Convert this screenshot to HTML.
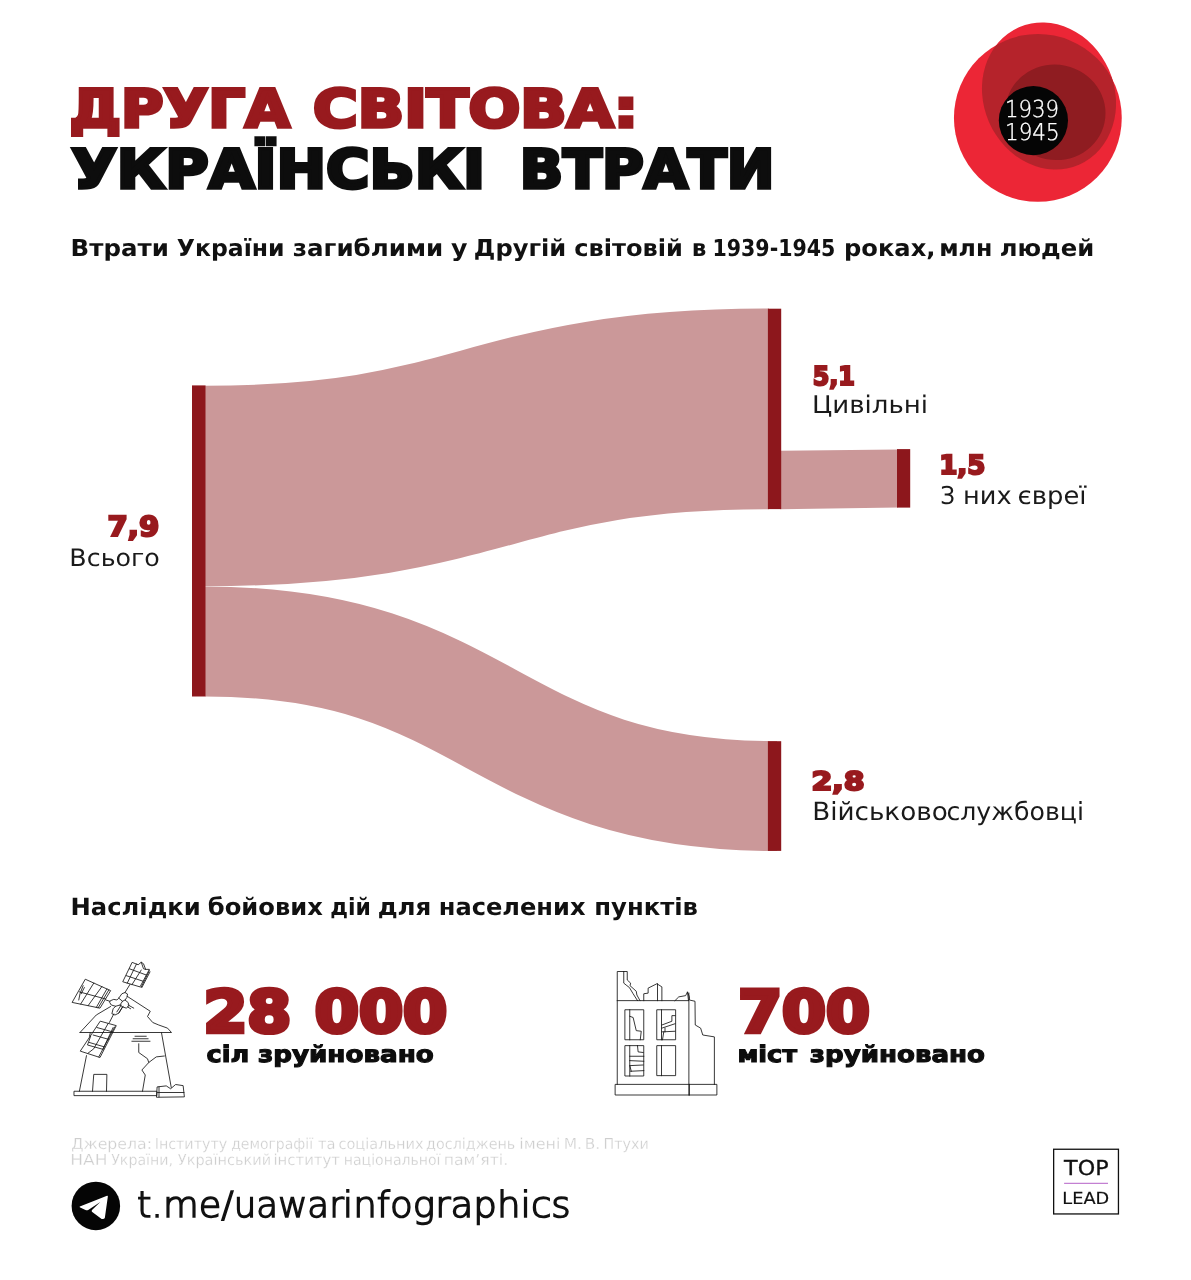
<!DOCTYPE html>
<html lang="uk"><head><meta charset="utf-8"><title>Друга світова: українські втрати</title>
<style>html,body{margin:0;padding:0;background:#fff}svg{display:block}text{white-space:pre}</style></head>
<body><svg width="1191" height="1280" viewBox="0 0 1191 1280">
<rect width="1191" height="1280" fill="#fff"/>
<!-- sankey -->
<g id="sankey">
<path d="M205,485.95 C487,485.95 487,408.9 769,408.9" fill="none" stroke="#cb9899" stroke-width="200.6"/>
<path d="M205,641.5 C491,641.5 491,796.1 777,796.1" fill="none" stroke="#cb9899" stroke-width="110"/>
<path d="M780,450.8 L898,449.5 L898,507.6 L780,509.2 Z" fill="#cb9899"/>
<rect x="192" y="385.4" width="13.5" height="311.1" fill="#8d171c"/>
<rect x="767.9" y="308.7" width="13.3" height="200.4" fill="#8d171c"/>
<rect x="767.9" y="741.2" width="13.3" height="109.7" fill="#8d171c"/>
<rect x="897" y="449.1" width="13.2" height="58.5" fill="#8d171c"/>
</g>
<!-- poppy -->
<defs>
<clipPath id="cBig"><circle cx="1037.85" cy="117.9" r="83.9"/></clipPath>
<clipPath id="cP2"><ellipse cx="1049" cy="96" rx="65.4" ry="75" transform="rotate(-23.6 1049 96)"/></clipPath>
</defs>
<g id="poppy">
<circle cx="1037.85" cy="117.9" r="83.9" fill="#ec2636"/>
<ellipse cx="1049" cy="96" rx="65.4" ry="75" transform="rotate(-23.6 1049 96)" fill="#ec2636"/>
<g clip-path="url(#cBig)"><ellipse cx="1049" cy="96" rx="65.4" ry="75" transform="rotate(-23.6 1049 96)" fill="#b5232b"/></g>
<g clip-path="url(#cBig)"><g clip-path="url(#cP2)"><ellipse cx="1055.5" cy="112.3" rx="50.1" ry="47.7" transform="rotate(12 1055.5 112.3)" fill="#8f1c21"/></g></g>
<circle cx="1033.4" cy="120.6" r="34.6" fill="#050505"/>
</g>
<!-- telegram -->
<g id="tg">
<circle cx="95.85" cy="1205.9" r="24.25" fill="#050505"/>
<g transform="translate(60,1170) scale(0.06717)">
<path d="M295,545 L700,385 Q715,380 712,400 L668,710 Q660,735 620,728 L475,620 Q465,605 480,590 L600,478 L420,595 Q400,605 380,597 L300,560 Q285,550 295,545 Z" fill="#fff"/>
</g>
</g>
<!-- toplead -->
<g id="toplead">
<rect x="1053.65" y="1149.25" width="64.8" height="64.7" fill="none" stroke="#111" stroke-width="1.3"/>
<rect x="1064.1" y="1182.8" width="43.9" height="1" fill="#b561c8"/>
</g>
<!-- windmill icon: coordinates in 8x zoom units, origin (60,950) -->
<g id="mill" transform="translate(60,950) scale(0.125)" fill="none" stroke="#151515" stroke-width="6.8" stroke-linejoin="round" stroke-linecap="round">
<path d="M115,1130 H775 V1165 H115 Z"/>
<path d="M780,1095 L850,1087 L885,1110 L925,1076 L985,1085 L995,1175 L775,1178 Z"/>
<path d="M792,1096 V1176 M780,1140 H992"/>
<path d="M155,1130 L212,845"/>
<path d="M236,690 L242,662"/>
<path d="M890,1100 L812,662"/>
<path d="M160,660 H892 L860,625 L790,600 L742,580 L700,532 L722,490 L540,372"/>
<path d="M160,660 L290,520 L405,452"/>
<path d="M260,1130 L270,995 H375 L372,1130"/>
<path d="M630,750 V820 L700,870 L710,900 L655,960 L682,1000 L660,1130 M710,900 L770,855 L835,848"/>
<path d="M600,690 H690 M585,710 H705 M575,730 H720"/>
<!-- hub -->
<path d="M405,405 L430,395 L455,400 L470,385 L495,350 L520,340 L540,352 L535,380 L520,400 L545,420 L552,445 L530,465 L500,455 L470,505 L440,520 L415,510 L425,470 L445,450 L410,440 L398,420 Z"/>
<path d="M470,385 L500,410 L520,400 M445,450 L480,440 L500,455 M480,440 L500,410 M455,495 L490,440 M470,505 L505,450"/>
<path d="M545,440 L590,465 M540,455 L565,470"/>
<!-- top blade -->
<path d="M520,340 L560,275"/>
<path d="M580,100 L625,118 L650,98 L668,110 L685,155 L715,155 L640,295 L505,255 Z"/>
<path d="M650,98 L668,150 L685,155 M715,165 L648,300 M720,175 L655,300"/>
<path d="M612,112 L538,265 M650,160 L575,278 M555,150 L690,200 M530,205 L665,250"/>
<!-- left blade -->
<path d="M398,410 L368,400"/>
<path d="M205,235 L405,325 L320,465 L100,420 Z"/>
<path d="M270,265 L165,433 M335,293 L225,445 M375,312 L290,460 M390,320 L305,463 M155,335 L365,392"/>
<path d="M185,285 L160,350 L150,400 M195,300 L170,350"/>
<!-- bottom blade -->
<path d="M430,512 L395,580"/>
<path d="M325,570 L450,605 L320,860 L165,810 Z"/>
<path d="M438,615 L310,855 M425,620 L345,790 M385,588 L270,790 L225,825 M295,620 L420,655 M265,680 L390,715 M235,740 L355,775 M245,690 L220,760 L345,795"/>
</g>
<!-- ruined building icon: 8x zoom units, origin (600,950) -->
<g id="bld" transform="translate(600,950) scale(0.125)" fill="none" stroke="#151515" stroke-width="6.8" stroke-linejoin="miter" stroke-linecap="square">
<path d="M125,1075 H935 V1160 H125 Z M715,1075 V1160"/>
<path d="M138,1075 V172 H218 V240 L245,265 L240,285 L290,330 L295,360 L320,405"/>
<path d="M190,172 V265 L215,285 L235,300 L265,350 L300,405"/>
<path d="M138,405 H705"/>
<path d="M350,405 V350 L385,345 V305 L455,270 L495,295 V405 M460,270 V405"/>
<path d="M600,405 L630,375 L685,365 L700,335 L715,375 V400 L760,410 L762,600 L805,625 L822,680 L915,695 V1075"/>
<path d="M711,345 V1160 M700,338 L708,405"/>
<!-- windows -->
<path d="M203,478 H350 V718 H203 Z M238,478 V718 M238,530 L265,540 L290,645 L330,650 L322,718"/>
<path d="M458,478 H605 V718 H458 Z M492,478 V718 M600,525 H575 V570 L495,600 M495,625 L600,590 M495,655 L600,650 M510,655 L500,718 M520,625 V655"/>
<path d="M203,765 H350 V1008 H203 Z M238,765 V1008 M300,765 L305,815 L345,820 M238,850 H350 M238,885 L350,890 M238,925 L345,920 M245,970 L350,965 M240,930 L250,970"/>
<path d="M458,765 H605 V1005 H458 Z M492,765 V1005"/>
</g>

<g text-rendering="geometricPrecision">
<text transform="translate(69.51,126.80) scale(1.1040,1)" font-family="DejaVu Sans, Liberation Sans, sans-serif" font-weight="700" font-size="52.47" fill="#981a1e" stroke="#981a1e" stroke-width="3.60" stroke-linejoin="miter">ДРУГА</text>
<text transform="translate(313.04,126.80) scale(1.1610,1)" font-family="DejaVu Sans, Liberation Sans, sans-serif" font-weight="700" font-size="52.47" fill="#981a1e" stroke="#981a1e" stroke-width="3.60" stroke-linejoin="miter">СВІТОВА:</text>
<text transform="translate(71.20,187.60) scale(1.1001,1)" font-family="DejaVu Sans, Liberation Sans, sans-serif" font-weight="700" font-size="53.84" fill="#0d0d0d" stroke="#0d0d0d" stroke-width="3.60" stroke-linejoin="miter">УКРАЇНСЬКІ</text>
<text transform="translate(519.63,187.60) scale(1.0585,1)" font-family="DejaVu Sans, Liberation Sans, sans-serif" font-weight="700" font-size="53.84" fill="#0d0d0d" stroke="#0d0d0d" stroke-width="3.60" stroke-linejoin="miter">ВТРАТИ</text>
<text transform="translate(70.53,256.00) scale(1.0518,1)" font-family="DejaVu Sans, Liberation Sans, sans-serif" font-weight="700" font-size="23.29" fill="#111">Втрати</text>
<text transform="translate(176.79,256.00) scale(1.0123,1)" font-family="DejaVu Sans, Liberation Sans, sans-serif" font-weight="700" font-size="23.29" fill="#111">України</text>
<text transform="translate(292.77,256.00) scale(1.0544,1)" font-family="DejaVu Sans, Liberation Sans, sans-serif" font-weight="700" font-size="23.29" fill="#111">загиблими</text>
<text transform="translate(450.88,256.00) scale(1.0874,1)" font-family="DejaVu Sans, Liberation Sans, sans-serif" font-weight="700" font-size="23.29" fill="#111">у</text>
<text transform="translate(473.85,256.00) scale(1.0385,1)" font-family="DejaVu Sans, Liberation Sans, sans-serif" font-weight="700" font-size="23.29" fill="#111">Другій</text>
<text transform="translate(574.28,256.00) scale(1.0351,1)" font-family="DejaVu Sans, Liberation Sans, sans-serif" font-weight="700" font-size="23.29" fill="#111">світовій</text>
<text transform="translate(691.63,256.00) scale(0.9949,1)" font-family="DejaVu Sans, Liberation Sans, sans-serif" font-weight="700" font-size="23.29" fill="#111">в</text>
<text transform="translate(712.38,256.00) scale(0.8836,1)" font-family="DejaVu Sans, Liberation Sans, sans-serif" font-weight="700" font-size="23.29" fill="#111">1939-1945</text>
<text transform="translate(843.94,256.00) scale(1.0392,1)" font-family="DejaVu Sans, Liberation Sans, sans-serif" font-weight="700" font-size="23.29" fill="#111">роках,</text>
<text transform="translate(939.18,256.00) scale(1.0194,1)" font-family="DejaVu Sans, Liberation Sans, sans-serif" font-weight="700" font-size="23.29" fill="#111">млн</text>
<text transform="translate(999.66,256.00) scale(1.0436,1)" font-family="DejaVu Sans, Liberation Sans, sans-serif" font-weight="700" font-size="23.29" fill="#111">людей</text>
<text transform="translate(70.56,914.90) scale(1.0177,1)" font-family="DejaVu Sans, Liberation Sans, sans-serif" font-weight="700" font-size="23.84" fill="#111">Наслідки</text>
<text transform="translate(207.77,914.90) scale(1.0169,1)" font-family="DejaVu Sans, Liberation Sans, sans-serif" font-weight="700" font-size="23.84" fill="#111">бойових</text>
<text transform="translate(330.19,914.90) scale(0.9212,1)" font-family="DejaVu Sans, Liberation Sans, sans-serif" font-weight="700" font-size="23.84" fill="#111">дій</text>
<text transform="translate(377.64,914.90) scale(1.0340,1)" font-family="DejaVu Sans, Liberation Sans, sans-serif" font-weight="700" font-size="23.84" fill="#111">для</text>
<text transform="translate(438.75,914.90) scale(1.0122,1)" font-family="DejaVu Sans, Liberation Sans, sans-serif" font-weight="700" font-size="23.84" fill="#111">населених</text>
<text transform="translate(594.23,914.90) scale(1.0205,1)" font-family="DejaVu Sans, Liberation Sans, sans-serif" font-weight="700" font-size="23.84" fill="#111">пунктів</text>
<text transform="translate(107.60,535.90) scale(1.0601,1)" font-family="DejaVu Sans, Liberation Sans, sans-serif" font-weight="700" font-size="27.47" fill="#981a1e" stroke="#981a1e" stroke-width="2.20" stroke-linejoin="miter">7,9</text>
<text transform="translate(69.33,566.30) scale(1.0567,1)" font-family="DejaVu Sans, Liberation Sans, sans-serif" font-weight="400" font-size="23.97" fill="#1a1a1a">Всього</text>
<text transform="translate(812.66,385.40) scale(0.9181,1)" font-family="DejaVu Sans, Liberation Sans, sans-serif" font-weight="700" font-size="25.99" fill="#981a1e" stroke="#981a1e" stroke-width="2.20" stroke-linejoin="miter">5,1</text>
<text transform="translate(812.06,412.80) scale(1.0680,1)" font-family="DejaVu Sans, Liberation Sans, sans-serif" font-weight="400" font-size="24.38" fill="#1a1a1a">Цивільні</text>
<text transform="translate(939.15,474.20) scale(0.9908,1)" font-family="DejaVu Sans, Liberation Sans, sans-serif" font-weight="700" font-size="26.40" fill="#981a1e" stroke="#981a1e" stroke-width="2.20" stroke-linejoin="miter">1,5</text>
<text transform="translate(940.30,504.20) scale(0.9436,1)" font-family="DejaVu Sans, Liberation Sans, sans-serif" font-weight="400" font-size="24.52" fill="#1a1a1a">З</text>
<text transform="translate(962.99,504.20) scale(1.0446,1)" font-family="DejaVu Sans, Liberation Sans, sans-serif" font-weight="400" font-size="24.52" fill="#1a1a1a">них</text>
<text transform="translate(1017.58,504.20) scale(1.0548,1)" font-family="DejaVu Sans, Liberation Sans, sans-serif" font-weight="400" font-size="24.52" fill="#1a1a1a">євреї</text>
<text transform="translate(811.40,789.90) scale(1.1787,1)" font-family="DejaVu Sans, Liberation Sans, sans-serif" font-weight="700" font-size="25.45" fill="#981a1e" stroke="#981a1e" stroke-width="2.20" stroke-linejoin="miter">2,8</text>
<text transform="translate(812.14,820.40) scale(1.0528,1)" font-family="DejaVu Sans, Liberation Sans, sans-serif" font-weight="400" font-size="24.93" fill="#1a1a1a">Військово</text>
<text transform="translate(946.41,820.40) scale(1.0107,1)" font-family="DejaVu Sans, Liberation Sans, sans-serif" font-weight="400" font-size="24.93" fill="#1a1a1a">службовці</text>
<text transform="translate(203.40,1031.75) scale(1.0912,1)" font-family="DejaVu Sans, Liberation Sans, sans-serif" font-weight="700" font-size="57.91" fill="#981a1e" stroke="#981a1e" stroke-width="4.50" stroke-linejoin="miter">28</text>
<text transform="translate(314.75,1031.75) scale(1.0960,1)" font-family="DejaVu Sans, Liberation Sans, sans-serif" font-weight="700" font-size="57.91" fill="#981a1e" stroke="#981a1e" stroke-width="4.50" stroke-linejoin="miter">000</text>
<text transform="translate(738.19,1031.75) scale(1.0890,1)" font-family="DejaVu Sans, Liberation Sans, sans-serif" font-weight="700" font-size="57.91" fill="#981a1e" stroke="#981a1e" stroke-width="4.50" stroke-linejoin="miter">700</text>
<text transform="translate(206.53,1062.45) scale(1.1197,1)" font-family="DejaVu Sans, Liberation Sans, sans-serif" font-weight="700" font-size="22.83" fill="#0d0d0d" stroke="#0d0d0d" stroke-width="1.10" stroke-linejoin="miter">сіл</text>
<text transform="translate(257.92,1062.45) scale(1.1475,1)" font-family="DejaVu Sans, Liberation Sans, sans-serif" font-weight="700" font-size="22.83" fill="#0d0d0d" stroke="#0d0d0d" stroke-width="1.10" stroke-linejoin="miter">зруйновано</text>
<text transform="translate(737.44,1062.45) scale(1.1205,1)" font-family="DejaVu Sans, Liberation Sans, sans-serif" font-weight="700" font-size="22.83" fill="#0d0d0d" stroke="#0d0d0d" stroke-width="1.10" stroke-linejoin="miter">міст</text>
<text transform="translate(809.82,1062.45) scale(1.1429,1)" font-family="DejaVu Sans, Liberation Sans, sans-serif" font-weight="700" font-size="22.83" fill="#0d0d0d" stroke="#0d0d0d" stroke-width="1.10" stroke-linejoin="miter">зруйновано</text>
<text transform="translate(71.16,1149.35) scale(1.0349,1)" font-family="DejaVu Sans, Liberation Sans, sans-serif" font-weight="400" font-size="15.21" fill="#cecece" stroke="#fff" stroke-width="0.30" stroke-linejoin="miter">Джерела:</text>
<text transform="translate(154.67,1149.35) scale(0.9386,1)" font-family="DejaVu Sans, Liberation Sans, sans-serif" font-weight="400" font-size="15.21" fill="#cecece" stroke="#fff" stroke-width="0.30" stroke-linejoin="miter">Інституту</text>
<text transform="translate(231.13,1149.35) scale(0.9200,1)" font-family="DejaVu Sans, Liberation Sans, sans-serif" font-weight="400" font-size="15.21" fill="#cecece" stroke="#fff" stroke-width="0.30" stroke-linejoin="miter">демографії</text>
<text transform="translate(317.91,1149.35) scale(0.9660,1)" font-family="DejaVu Sans, Liberation Sans, sans-serif" font-weight="400" font-size="15.21" fill="#cecece" stroke="#fff" stroke-width="0.30" stroke-linejoin="miter">та</text>
<text transform="translate(338.46,1149.35) scale(0.9565,1)" font-family="DejaVu Sans, Liberation Sans, sans-serif" font-weight="400" font-size="15.21" fill="#cecece" stroke="#fff" stroke-width="0.30" stroke-linejoin="miter">соціальних</text>
<text transform="translate(426.11,1149.35) scale(0.9427,1)" font-family="DejaVu Sans, Liberation Sans, sans-serif" font-weight="400" font-size="15.21" fill="#cecece" stroke="#fff" stroke-width="0.30" stroke-linejoin="miter">досліджень</text>
<text transform="translate(519.33,1149.35) scale(1.0449,1)" font-family="DejaVu Sans, Liberation Sans, sans-serif" font-weight="400" font-size="15.21" fill="#cecece" stroke="#fff" stroke-width="0.30" stroke-linejoin="miter">імені</text>
<text transform="translate(563.74,1149.35) scale(1.0189,1)" font-family="DejaVu Sans, Liberation Sans, sans-serif" font-weight="400" font-size="15.21" fill="#cecece" stroke="#fff" stroke-width="0.30" stroke-linejoin="miter">М.</text>
<text transform="translate(584.66,1149.35) scale(1.0062,1)" font-family="DejaVu Sans, Liberation Sans, sans-serif" font-weight="400" font-size="15.21" fill="#cecece" stroke="#fff" stroke-width="0.30" stroke-linejoin="miter">В.</text>
<text transform="translate(603.57,1149.35) scale(0.9375,1)" font-family="DejaVu Sans, Liberation Sans, sans-serif" font-weight="400" font-size="15.21" fill="#cecece" stroke="#fff" stroke-width="0.30" stroke-linejoin="miter">Птухи</text>
<text transform="translate(70.27,1164.95) scale(1.1201,1)" font-family="DejaVu Sans, Liberation Sans, sans-serif" font-weight="400" font-size="15.21" fill="#cecece" stroke="#fff" stroke-width="0.30" stroke-linejoin="miter">НАН</text>
<text transform="translate(111.21,1164.95) scale(0.9323,1)" font-family="DejaVu Sans, Liberation Sans, sans-serif" font-weight="400" font-size="15.21" fill="#cecece" stroke="#fff" stroke-width="0.30" stroke-linejoin="miter">України,</text>
<text transform="translate(177.80,1164.95) scale(0.9530,1)" font-family="DejaVu Sans, Liberation Sans, sans-serif" font-weight="400" font-size="15.21" fill="#cecece" stroke="#fff" stroke-width="0.30" stroke-linejoin="miter">Український</text>
<text transform="translate(273.44,1164.95) scale(0.9792,1)" font-family="DejaVu Sans, Liberation Sans, sans-serif" font-weight="400" font-size="15.21" fill="#cecece" stroke="#fff" stroke-width="0.30" stroke-linejoin="miter">інститут</text>
<text transform="translate(343.79,1164.95) scale(0.9254,1)" font-family="DejaVu Sans, Liberation Sans, sans-serif" font-weight="400" font-size="15.21" fill="#cecece" stroke="#fff" stroke-width="0.30" stroke-linejoin="miter">національної</text>
<text transform="translate(443.74,1164.95) scale(1.0286,1)" font-family="DejaVu Sans, Liberation Sans, sans-serif" font-weight="400" font-size="15.21" fill="#cecece" stroke="#fff" stroke-width="0.30" stroke-linejoin="miter">пам’яті.</text>
<text transform="translate(136.93,1217.15) scale(1.0246,1)" font-family="DejaVu Sans, Liberation Sans, sans-serif" font-weight="200" font-size="35.80" fill="#111" stroke="#111" stroke-width="1.50" stroke-linejoin="miter">t.me/</text>
<text transform="translate(233.71,1217.15) scale(0.9965,1)" font-family="DejaVu Sans, Liberation Sans, sans-serif" font-weight="200" font-size="35.80" fill="#111" stroke="#111" stroke-width="1.50" stroke-linejoin="miter">uawar</text>
<text transform="translate(342.79,1217.15) scale(1.0416,1)" font-family="DejaVu Sans, Liberation Sans, sans-serif" font-weight="200" font-size="35.80" fill="#111" stroke="#111" stroke-width="1.50" stroke-linejoin="miter">info</text>
<text transform="translate(412.80,1217.15) scale(1.0404,1)" font-family="DejaVu Sans, Liberation Sans, sans-serif" font-weight="200" font-size="35.80" fill="#111" stroke="#111" stroke-width="1.50" stroke-linejoin="miter">graphics</text>
<text transform="translate(1064.12,1174.95) scale(1.0814,1)" font-family="DejaVu Sans, Liberation Sans, sans-serif" font-weight="400" font-size="20.55" fill="#111" stroke="#111" stroke-width="0.30" stroke-linejoin="miter">TOP</text>
<text transform="translate(1062.28,1203.60) scale(1.0703,1)" font-family="DejaVu Sans, Liberation Sans, sans-serif" font-weight="400" font-size="16.58" fill="#111" stroke="#111" stroke-width="0.20" stroke-linejoin="miter">LEAD</text>
<text transform="translate(1005.02,117.33) scale(0.9102,1)" font-family="DejaVu Sans, Liberation Sans, sans-serif" font-weight="200" font-size="23.37" fill="#fff" stroke="#fff" stroke-width="0.35" stroke-linejoin="miter">1939</text>
<text transform="translate(1005.00,139.92) scale(0.9252,1)" font-family="DejaVu Sans, Liberation Sans, sans-serif" font-weight="200" font-size="23.23" fill="#fff" stroke="#fff" stroke-width="0.35" stroke-linejoin="miter">1945</text>
</g>
</svg></body></html>
